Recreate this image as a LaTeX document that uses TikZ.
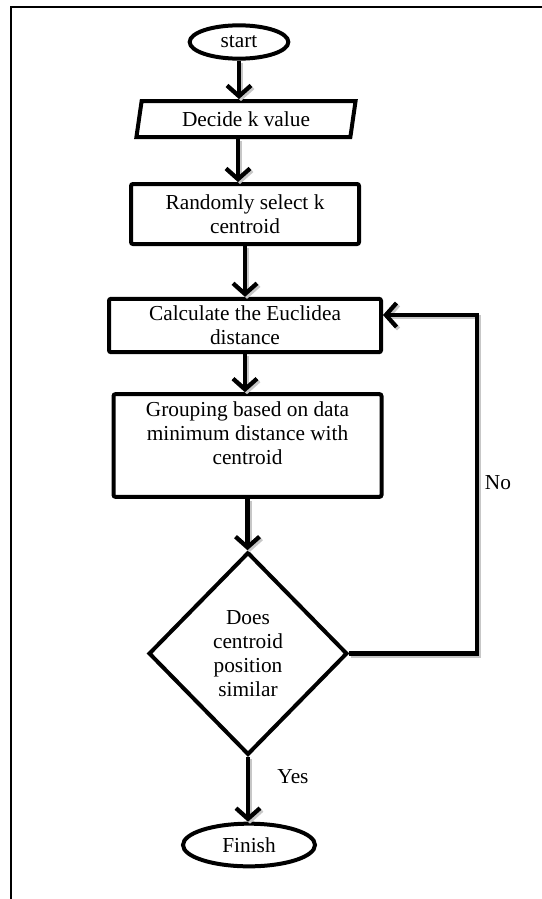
\documentclass[tikz,border=0pt]{standalone}
\usepackage{fontspec}
\setmainfont{Liberation Serif}
\usetikzlibrary{shapes.geometric,arrows.meta}
\begin{document}
\begin{tikzpicture}[x=0.75pt,y=-0.75pt,
  every node/.style={font=\fontsize{16}{18}\selectfont, align=center, inner sep=0pt},
  boxnode/.style={draw, line width=3pt, rounded corners=1.5pt},
  ovalnode/.style={draw, ellipse, line width=3pt},
  flow/.style={line width=3.5pt, -{Straight Barb[length=8pt,width=18pt,line width=3.2pt]},
    preaction={draw=black!22, line width=3.5pt, transform canvas={shift={(1.5pt,-1.5pt)}}}},
  lbl/.style={font=\fontsize{16}{18}\selectfont}]
\useasboundingbox (0,0) rectangle (542,899);
\draw[line width=1.8pt] (11,899) -- (11,7) -- (542,7);

\node[ovalnode, minimum width=74pt, minimum height=25pt] (start) at (239,42) {start};
\node[boxnode, trapezium, trapezium left angle=78, trapezium right angle=102,
      trapezium stretches=true, minimum width=165pt, minimum height=27pt, rounded corners=0pt] (decide) at (246,119) {Decide k value};
\node[boxnode, minimum width=171pt, minimum height=45pt] (rand) at (245,214) {Randomly select k\\centroid};
\node[boxnode, minimum width=204pt, minimum height=40pt] (calc) at (245,325.5) {Calculate the Euclidea\\distance};
\node[boxnode, minimum width=201pt, minimum height=77pt] (group) at (247.5,445.5) {Grouping based on data\\minimum distance with\\centroid\\\mbox{}};
\node[boxnode, diamond, rounded corners=0pt, minimum width=149pt, minimum height=152pt, aspect=1] (dia) at (248,653.5) {Does\\centroid\\position\\similar};
\node[ovalnode, minimum width=99pt, minimum height=32pt] (fin) at (249,845) {Finish};

\draw[flow] (start.south) -- (start.south |- decide.north);
\draw[flow] ([xshift=-6pt]decide.south) -- ([xshift=-6pt]decide.south |- rand.north);
\draw[flow] (rand.south) -- (rand.south |- calc.north);
\draw[flow] (calc.south) -- (calc.south |- group.north);
\draw[flow] (group.south) -- (group.south |- dia.north);
\draw[flow] (dia.south) -- (dia.south |- fin.north);

\coordinate (corner) at (477,315);
\draw[flow] (dia.east) -| (corner) -- (calc.east |- corner);

\node[lbl] (yes) at (293,777) {Yes};
\node[lbl] (no) at (498,483) {No};
\end{tikzpicture}
\end{document}
